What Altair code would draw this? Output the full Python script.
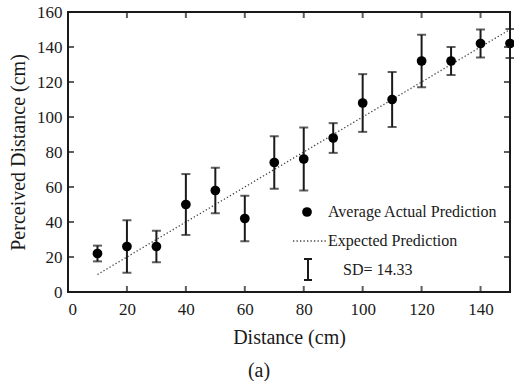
import altair as alt
import pandas as pd

# ---- data ----
distance = [10, 20, 30, 40, 50, 60, 70, 80, 90, 100, 110, 120, 130, 140, 150]
perceived = [22, 26, 26, 50, 58, 42, 74, 76, 88, 108, 110, 132, 132, 142, 142]
sd = [4.5, 15, 9, 17.4, 13, 13, 15, 18, 8.5, 16.5, 15.7, 15, 8, 8, 8.3]
expected_x = [10, 150]
expected_y = [10, 150]
x_ticks = [20, 40, 60, 80, 100, 120, 140]
y_ticks = [20, 40, 60, 80, 100, 120, 140]
x_labels = [0, 20, 40, 60, 80, 100, 120, 140]
y_labels = [0, 20, 40, 60, 80, 100, 120, 140, 160]

W, H = 442, 280
FONT = "Liberation Serif"
INK = "#1a1a1a"

df = pd.DataFrame({"d": distance, "p": perceived, "sd": sd})
df["lo"] = df["p"] - df["sd"]
df["hi"] = df["p"] + df["sd"]
exp_df = pd.DataFrame({"x": expected_x, "y": expected_y})
xt = pd.DataFrame({"v": x_ticks})
yt = pd.DataFrame({"v": y_ticks})

xs = alt.Scale(domain=[0, 150], nice=False, zero=False)
ys = alt.Scale(domain=[0, 160], nice=False, zero=False)

xax = alt.Axis(values=x_labels, title="Distance (cm)", labelPadding=9, titlePadding=10)
yax = alt.Axis(values=y_labels, title="Perceived Distance (cm)", labelPadding=6, titlePadding=8)

X = lambda f: alt.X(f, scale=xs, axis=xax)
Y = lambda f: alt.Y(f, scale=ys, axis=yax)

base = alt.Chart(df)

expected = alt.Chart(exp_df).mark_line(color="#444", strokeWidth=1.3, strokeDash=[1.3, 2.2]).encode(
    x=X("x:Q"), y=Y("y:Q"))

bars = base.mark_rule(color=INK, strokeWidth=2).encode(x=X("d:Q"), y=Y("lo:Q"), y2="hi:Q")
caps_lo = base.mark_tick(color=INK, orient="horizontal", size=9, thickness=2).encode(
    x=X("d:Q"), y=Y("lo:Q"))
caps_hi = base.mark_tick(color=INK, orient="horizontal", size=9, thickness=2).encode(
    x=X("d:Q"), y=Y("hi:Q"))
points = base.mark_point(filled=True, color="black", opacity=1, size=95, shape="circle").encode(
    x=X("d:Q"), y=Y("p:Q"))

TL = 6
tick_b = alt.Chart(xt).mark_tick(color=INK, orient="vertical", size=TL, thickness=2).encode(
    x=X("v:Q"), y=alt.value(H - TL / 2))
tick_t = alt.Chart(xt).mark_tick(color=INK, orient="vertical", size=TL, thickness=2).encode(
    x=X("v:Q"), y=alt.value(TL / 2))
tick_l = alt.Chart(yt).mark_tick(color=INK, orient="horizontal", size=TL, thickness=2).encode(
    y=Y("v:Q"), x=alt.value(TL / 2))
tick_r = alt.Chart(yt).mark_tick(color=INK, orient="horizontal", size=TL, thickness=2).encode(
    y=Y("v:Q"), x=alt.value(W - TL / 2))

# ---- manual legend inside the plot ----
one = pd.DataFrame({"a": [0]})
leg_dot = alt.Chart(one).mark_point(filled=True, color="black", opacity=1, size=95).encode(
    x=alt.value(239), y=alt.value(200))
leg_text1 = alt.Chart(one).mark_text(align="left", baseline="middle", font=FONT, fontSize=16,
                                     color=INK, text="Average Actual Prediction").encode(
    x=alt.value(260), y=alt.value(200))
leg_line = alt.Chart(one).mark_rule(color="#444", strokeWidth=1.3, strokeDash=[1.3, 2.2]).encode(
    x=alt.value(225), x2=alt.value(258), y=alt.value(229))
leg_text2 = alt.Chart(one).mark_text(align="left", baseline="middle", font=FONT, fontSize=16,
                                     color=INK, text="Expected Prediction").encode(
    x=alt.value(260), y=alt.value(229))
leg_eb = alt.Chart(one).mark_rule(color=INK, strokeWidth=2).encode(
    x=alt.value(240), y=alt.value(247), y2=alt.value(268))
leg_eb_t = alt.Chart(one).mark_rule(color=INK, strokeWidth=2).encode(
    x=alt.value(236), x2=alt.value(244), y=alt.value(247))
leg_eb_b = alt.Chart(one).mark_rule(color=INK, strokeWidth=2).encode(
    x=alt.value(236), x2=alt.value(244), y=alt.value(268))
leg_text3 = alt.Chart(one).mark_text(align="left", baseline="middle", font=FONT, fontSize=16,
                                     color=INK, text="SD= 14.33").encode(
    x=alt.value(275), y=alt.value(258))

chart = alt.layer(
    expected, bars, caps_lo, caps_hi, points,
    tick_b, tick_t, tick_l, tick_r,
    leg_dot, leg_text1, leg_line, leg_text2, leg_eb, leg_eb_t, leg_eb_b, leg_text3,
).properties(
    width=W, height=H,
    background="white",
    autosize=alt.AutoSizeParams(type="none"),
    padding={"left": 68, "top": 12, "right": 4, "bottom": 89},
    title=alt.TitleParams("(a)", orient="bottom", font=FONT, fontSize=20, fontWeight="normal",
                          color=INK, anchor="middle", dx=-30, offset=14),
).configure_axis(
    ticks=False, domain=False, grid=False, labelOverlap=False,
    labelFont=FONT, labelFontSize=17, labelColor=INK,
    titleFont=FONT, titleFontSize=20, titleFontWeight="normal", titleColor=INK,
).configure_view(stroke=INK, strokeWidth=2)

chart.save("out.html", embed_options={"renderer": "svg", "actions": False})
